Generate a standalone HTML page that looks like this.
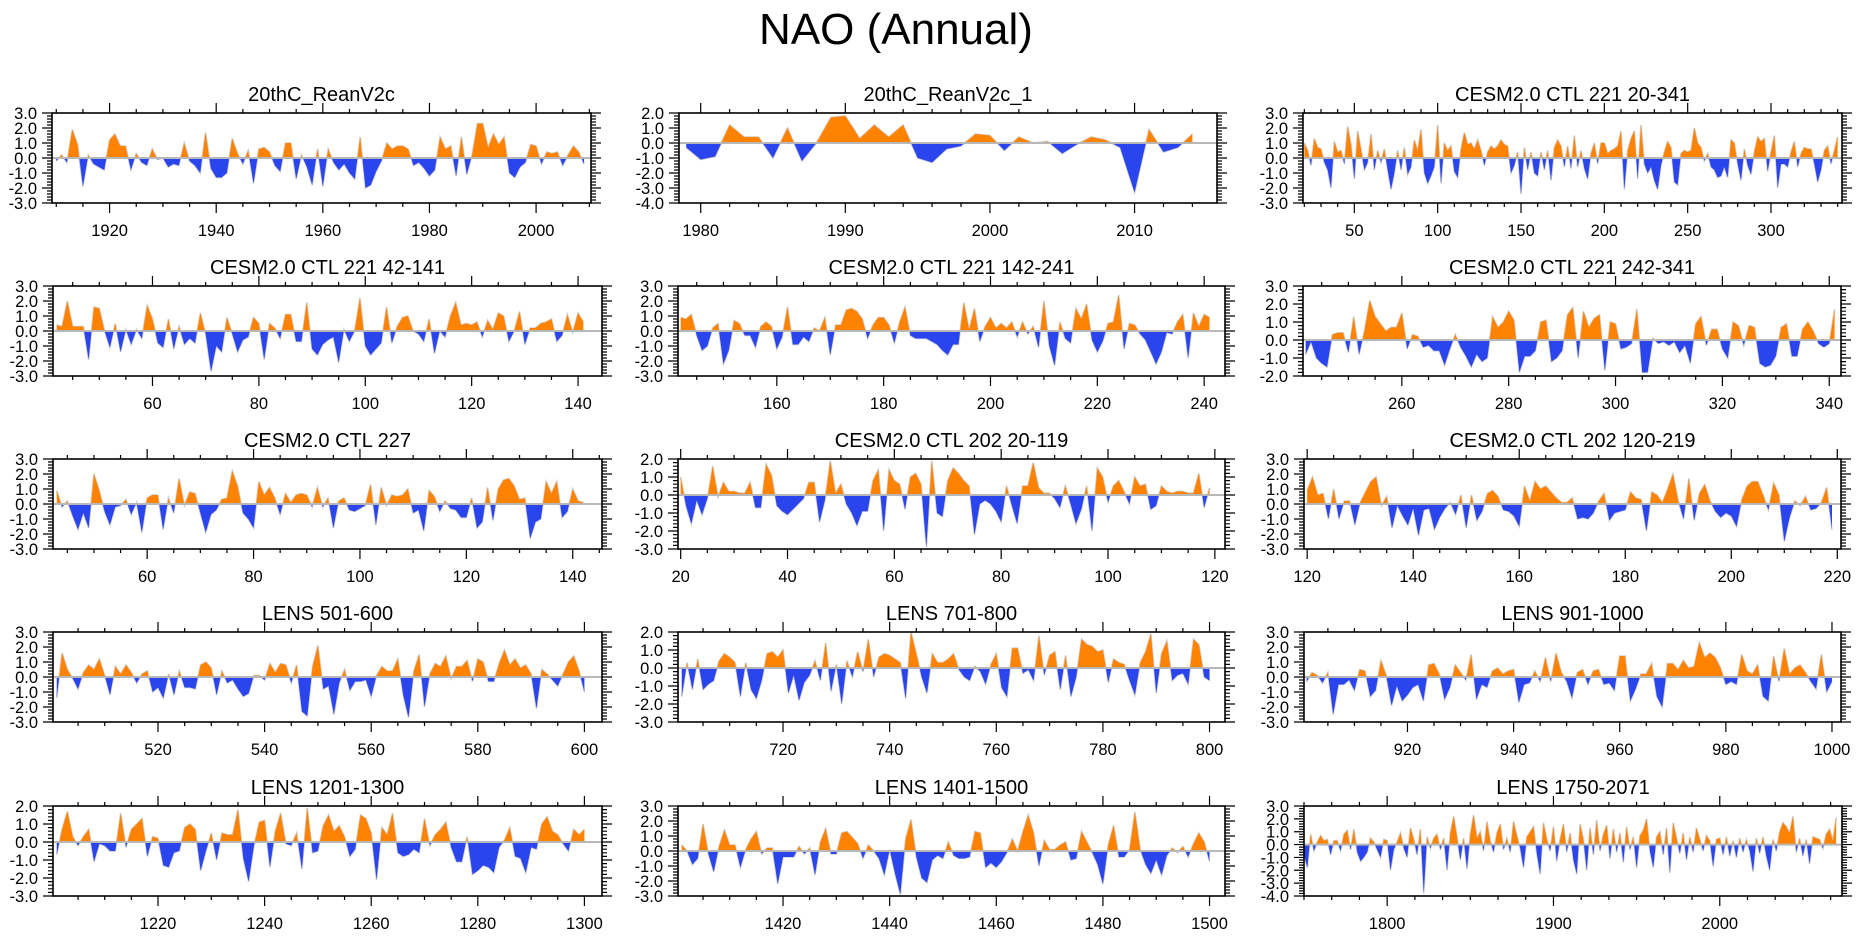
<!DOCTYPE html>
<html><head><meta charset="utf-8"><title>NAO (Annual)</title>
<style>html,body{margin:0;padding:0;background:#fff}svg{display:block}text{font-family:"Liberation Sans",Arial,sans-serif;fill:#000}</style>
</head><body>
<svg id="chart" xmlns="http://www.w3.org/2000/svg" width="1861" height="936" viewBox="0 0 1861 936">
<rect x="0" y="0" width="1861" height="936" fill="#fff"/>
<text x="896" y="44" font-size="44" text-anchor="middle">NAO (Annual)</text>
<defs id="defs"></defs>
</svg>
<script>
const p1Values=[-0.2,0.2,-0.3,1.9,0.9,-1.9,0.2,-0.4,-0.6,-0.8,1.2,1.6,0.8,0.8,-0.8,0.3,-0.3,-0.5,0.6,-0.1,0.0,-0.6,-0.4,-0.5,1.0,-0.2,-0.5,-1.0,1.7,-0.7,-1.3,-1.3,-1.0,1.3,0.3,-0.4,0.5,-1.7,0.6,0.7,0.4,-0.5,-0.9,1.0,1.0,-1.4,0.2,-0.6,-1.8,0.6,-1.9,0.6,-0.3,-0.8,-0.4,-1.0,-1.4,1.4,-2.0,-1.8,-0.9,-0.2,1.0,0.6,0.8,0.8,0.6,-0.5,-0.3,-0.7,-1.2,-0.8,1.4,0.6,0.8,-1.2,1.4,-1.1,0.2,2.3,2.3,0.7,1.6,0.9,1.4,-1.0,-1.3,-0.6,-0.3,0.9,0.8,-0.4,0.4,0.3,0.4,-0.5,0.2,0.8,0.4,-0.4];
const p2Values=[-0.3,-1.1,-0.9,1.2,0.4,0.4,-1.0,1.0,-1.2,0.0,1.7,1.8,0.3,1.2,0.4,1.2,-1.0,-1.3,-0.4,-0.2,0.6,0.5,-0.5,0.4,0.0,0.1,-0.7,-0.1,0.4,0.2,-0.3,-3.3,0.9,-0.6,-0.3,0.6];
const p3Values=[1.0,0.5,-0.5,1.3,0.7,0.6,-0.3,-0.8,-2.0,1.1,0.4,0.5,-0.4,2.1,0.9,-1.4,1.8,0.6,-0.8,-0.3,1.6,-0.8,0.5,-0.3,0.6,-0.8,-2.1,-1.0,0.5,-0.8,0.7,-1.1,-0.6,1.2,0.5,1.9,-1.0,-1.7,-1.2,-0.6,
2.2,-1.7,1.0,0.5,0.8,-0.9,-1.3,0.6,1.7,0.9,1.0,0.6,1.2,0.5,-0.5,0.4,0.8,0.6,0.8,1.2,0.9,0.8,-1.0,-0.5,0.4,-2.4,0.7,-0.8,0.4,-1.0,-1.2,0.4,-0.8,0.5,-1.5,0.7,1.2,0.8,-0.6,0.8,-0.7,1.5,-0.6,0.5,-0.7,-1.4,0.3,1.0,-0.4,1.0,
1.0,0.3,0.5,0.6,0.8,1.8,-2.1,0.5,1.3,1.8,-1.4,2.2,-0.4,-1.0,-0.6,-1.5,-2.1,-0.5,0.4,1.1,0.7,-1.6,-1.8,0.3,0.5,0.4,0.5,2.0,1.0,0.7,-0.2,0.3,-0.6,-0.8,-1.3,-1.2,-0.6,-1.3,1.2,1.0,-0.4,-1.5,0.6,-0.5,-1.1,0.4,1.4,1.1,1.3,-0.9,0.4,1.5,-2.0,-0.4,-0.4,-0.6,0.4,1.1,-0.6,0.3,0.7,0.6,0.6,-0.4,-1.6,-0.8,0.5,0.8,-0.4,0.5,1.4];
const p4Values=[0.4,0.3,2.0,0.3,0.3,0.3,-1.9,1.6,1.5,0.0,-1.1,0.5,-1.4,0.1,-0.9,0.1,-0.5,1.7,0.8,-0.8,-1.1,0.8,-1.2,0.3,-0.9,-0.5,-0.8,1.2,-0.2,-2.7,-1.0,-1.4,0.9,-0.2,-1.4,-0.6,-0.4,0.9,0.5,-1.9,0.5,0.2,-0.5,1.1,1.1,-0.7,-0.7,1.9,-1.2,-1.6,-0.9,-0.6,-0.4,-2.1,0.1,-0.7,0.0,2.2,-1.0,-1.6,-1.2,-0.8,1.6,-0.8,0.3,0.9,1.0,0.0,-0.2,-0.7,0.8,-1.5,0.0,-0.4,1.0,1.9,0.4,0.5,0.4,0.6,-0.4,0.7,0.1,1.2,1.0,-0.7,0.0,1.3,-0.9,0.2,0.2,0.5,0.6,0.8,-0.7,-0.3,1.1,-0.1,1.2,0.6];
const p5Values=[0.9,0.8,1.1,-0.3,-1.3,-1.0,0.2,0.5,-2.2,-1.3,0.7,0.5,-0.3,-0.3,-1.1,0.3,0.6,0.3,-1.2,-0.4,1.6,-0.9,-0.9,-0.4,-0.7,0.2,0.0,0.9,-1.6,0.4,0.4,1.4,1.5,1.3,0.8,-0.5,0.4,0.9,0.9,0.4,-0.8,0.6,1.6,-0.3,-0.5,-0.5,-0.5,-0.7,-0.9,-1.3,-1.6,-0.9,-0.9,1.9,0.1,1.5,-0.7,0.3,0.9,0.2,0.5,0.2,0.6,-0.4,0.6,-0.2,0.3,-1.1,2.0,-1.0,-2.3,0.6,-0.5,-0.8,1.5,0.8,1.8,-0.6,-1.4,-0.7,0.5,0.6,2.4,-1.2,0.5,0.4,-0.2,-0.6,-1.4,-2.2,-1.4,-0.1,-0.2,0.6,1.1,-1.8,1.2,0.3,1.1,0.9];
const p6Values=[-0.8,-0.1,-1.0,-1.3,-1.5,0.3,0.4,0.4,-0.7,1.3,-0.8,0.5,2.2,1.3,0.9,0.5,0.7,0.7,1.5,-0.5,0.3,0.2,-0.4,-0.3,-0.6,-0.6,-1.4,-0.5,0.3,-0.4,-0.9,-1.5,-0.8,-1.2,-1.0,1.3,0.7,1.0,1.6,1.1,-1.8,-0.9,-0.9,-0.6,1.0,1.1,-1.2,-1.0,-0.6,1.4,1.8,-1.0,1.6,0.7,1.2,1.4,-1.7,1.0,0.9,-0.5,-0.4,-0.2,1.7,-1.8,-1.8,0.1,-0.2,-0.1,-0.3,-0.1,-0.7,-0.3,-1.3,0.9,1.3,-0.3,0.6,0.6,-0.5,-1.0,1.0,0.8,-0.3,0.8,0.7,-1.3,-1.5,-1.4,-0.9,0.7,0.9,-0.9,-0.9,0.6,1.0,0.5,-0.2,-0.4,-0.2,1.7];
const p7Values=[0.9,-0.2,0.2,-0.8,-1.7,-0.6,-1.6,2.0,0.9,-0.5,-1.4,-0.2,-0.1,0.3,-0.7,0.1,-1.9,0.4,0.6,0.6,-1.7,0.4,-0.6,1.7,-0.1,0.8,0.7,-0.6,-1.9,-0.7,-0.4,0.3,0.4,2.2,1.2,-0.6,-1.0,-1.6,1.5,0.6,1.1,0.4,-0.7,0.7,0.1,0.6,0.7,0.6,-0.2,1.1,-0.2,0.4,-1.6,0.2,0.4,-0.4,-0.5,-0.3,-0.1,1.3,-1.4,1.1,-0.1,0.6,0.5,0.6,1.0,-0.6,-0.4,-1.8,0.9,0.5,-0.5,0.2,-0.3,-0.4,-0.9,-0.9,0.4,-1.6,-1.2,1.1,-1.1,1.0,1.6,1.7,1.2,0.3,0.4,-2.3,-1.2,-1.0,1.5,0.7,1.5,-0.9,-0.5,1.0,0.2,0.1];
const p8Values=[1.0,-0.6,-1.6,-0.3,-1.1,-0.2,1.6,-0.1,0.7,0.2,0.2,0.1,0.1,0.7,-0.7,-0.7,1.7,1.1,-0.6,-0.9,-1.1,-0.8,-0.5,-0.2,0.7,0.7,-1.5,-0.3,1.9,0.1,0.6,-0.5,-1.0,-1.7,-0.9,-0.9,0.8,1.4,-2.0,1.4,0.8,0.6,-0.8,1.0,1.2,0.6,-2.9,1.9,-1.0,-1.2,0.8,1.5,1.2,0.8,0.5,-2.2,-0.5,-0.3,-0.5,-0.9,-1.5,0.5,-0.6,-1.6,0.5,0.5,1.8,0.4,0.1,0.1,-0.2,-0.7,0.5,-0.5,-1.6,-0.8,0.5,-2.0,1.5,1.0,-0.4,0.5,0.8,0.2,-0.5,1.0,0.5,0.6,-0.8,-0.6,0.5,0.2,0.1,0.2,0.2,0.1,0.1,1.2,-0.7,0.4];
const p9Values=[0.9,1.8,0.6,0.7,-1.0,1.0,-1.0,0.2,0.2,-1.4,0.1,0.8,1.5,1.8,-0.1,0.5,-1.6,-0.1,-0.8,-1.4,-0.3,-2.1,-0.4,-0.3,-1.7,-0.9,-0.3,0.1,-0.7,0.6,-1.6,0.6,-1.1,-0.5,0.7,0.9,0.5,-0.4,-0.5,-0.8,-1.5,1.2,0.2,1.5,1.0,1.2,0.8,0.4,0.1,0.1,0.4,-1.0,-0.9,-1.0,-0.6,0.2,0.7,-1.1,-0.6,-0.5,-0.4,0.8,0.4,0.3,-1.8,0.8,0.6,0.1,1.0,2.0,0.2,-1.0,1.7,-1.1,0.7,1.3,0.2,-0.5,-0.9,-0.6,-0.8,-1.5,0.3,1.2,1.5,1.5,0.6,-0.4,1.4,0.6,-2.5,-0.9,0.2,-0.1,0.5,-0.4,-0.3,0.1,1.1,-1.7];
const p10Values=[-1.4,1.6,0.5,-0.1,-0.8,0.3,0.8,0.5,1.2,0.1,-1.2,0.7,0.2,0.8,0.3,-0.4,0.2,0.4,-1.0,-0.7,-1.4,0.2,-1.2,0.4,-0.7,-0.7,-0.8,0.8,1.0,0.6,-1.2,0.4,-0.4,-0.2,-0.8,-1.3,-1.1,0.1,0.1,-0.2,0.9,0.3,0.9,0.8,-0.4,0.8,-2.3,-2.6,0.7,2.1,-0.8,-0.6,-2.5,-0.4,0.5,-0.9,-0.3,-0.3,-0.2,-1.3,0.1,0.7,0.4,0.4,1.2,-1.2,-2.7,0.4,1.5,-2.0,0.2,0.9,0.7,1.4,-0.1,0.7,0.7,1.1,-0.3,1.2,1.0,-0.3,-0.3,0.9,1.8,0.8,1.2,0.6,0.8,0.2,-2.1,0.5,0.2,-0.2,-0.6,0.2,1.0,1.4,0.4,-1.0];
const p11Values=[-1.6,0.3,-1.2,0.5,-1.2,-0.9,-0.7,0.4,0.8,0.6,0.3,-1.6,0.3,-1.2,-1.7,-0.7,0.8,0.9,0.6,1.0,-1.4,-0.4,-1.8,-0.8,-0.4,0.4,-0.7,1.4,-1.3,0.2,-2.0,0.4,-0.5,0.9,-0.2,1.6,-0.5,0.6,0.8,0.7,0.5,0.3,-1.7,2.0,0.8,-0.5,-1.4,0.8,0.3,0.3,0.5,0.8,-0.1,-0.5,-0.7,0.1,-0.2,-0.9,0.2,0.8,-1.1,-1.6,1.1,1.1,-0.3,-0.1,-0.7,1.8,-0.4,0.7,0.9,-1.2,0.7,-1.6,-0.5,1.6,1.3,1.2,0.9,1.0,-0.8,0.5,0.3,0.2,-0.7,-1.5,0.3,0.9,1.9,-1.4,0.8,1.5,-0.7,-0.4,-0.3,-0.9,1.6,1.3,-0.5,-0.7];
const p12Values=[-0.3,0.3,0.1,-0.4,0.3,-2.5,-0.5,-0.5,-0.2,-0.9,0.5,0.4,-1.3,-0.9,1.1,0.1,-1.9,-0.6,-1.6,-1.2,-0.7,-0.5,-1.6,0.8,0.9,0.2,-1.5,-0.7,0.8,0.3,-0.2,1.5,-1.5,-0.5,-0.7,0.4,0.6,0.2,0.4,0.5,-1.7,-0.5,-0.4,0.4,-0.3,1.3,-0.3,1.6,0.3,-0.3,-1.4,0.3,0.5,-0.5,0.4,0.5,-0.5,-0.4,-0.9,1.4,1.4,-1.6,-0.8,0.2,0.2,0.9,-1.3,-2.0,0.9,0.9,0.5,1.1,0.6,0.7,2.3,1.3,1.6,1.3,0.6,-0.5,-0.3,-0.5,1.5,0.4,0.2,0.8,-1.3,-1.6,1.4,-0.3,1.9,0.2,0.6,0.8,0.3,-0.3,-0.8,1.5,-1.0,-0.3];
const p13Values=[-0.7,0.7,1.7,0.3,-0.2,0.3,0.7,-1.1,-0.1,-0.2,-0.5,-0.5,1.6,-0.3,0.7,1.0,1.3,-0.8,0.3,0.2,-1.3,-1.4,-0.6,-0.5,0.8,1.0,0.7,-1.6,-0.5,0.5,-1.0,0.5,0.4,0.4,1.8,-0.9,-2.2,-0.2,1.1,1.2,-1.4,0.6,1.6,-0.1,-0.2,0.5,-1.5,1.9,-0.6,-0.5,0.9,1.5,0.6,0.9,0.3,-0.8,-0.4,1.5,1.3,0.5,-2.1,0.8,0.4,1.6,-0.6,-0.8,-0.7,-0.4,-0.6,1.3,-0.2,0.4,0.7,1.1,-0.3,-1.1,-1.1,0.3,-1.8,-1.6,-1.3,-1.4,-1.7,-0.3,0.1,0.8,-0.8,-0.9,-1.7,-0.3,-0.4,1.0,1.4,0.6,0.4,-0.1,-0.5,0.7,0.4,0.7];
const p14Values=[0.4,0.0,-0.9,-0.5,1.8,-0.2,-1.4,0.3,1.4,0.4,0.4,-1.1,0.1,0.8,1.3,-0.2,0.2,0.2,-2.2,-0.4,-0.4,-0.4,0.3,-0.2,0.2,-1.6,0.6,1.5,-0.2,-0.2,1.2,1.3,0.9,0.5,-0.5,0.4,0.0,-0.5,-1.6,0.1,-1.5,-2.9,0.8,2.1,-0.4,-1.8,-2.1,-0.6,-0.3,-0.5,0.6,-0.3,-0.5,-0.5,-0.4,1.3,1.2,-1.1,-0.8,-1.1,-0.7,-0.1,0.8,0.0,1.3,2.4,1.2,-1.0,0.7,0.1,0.1,0.4,0.6,-0.6,-0.5,1.3,0.6,-0.1,-0.9,-2.2,0.4,1.7,-0.4,-0.4,0.1,2.6,0.1,-0.9,-1.5,-0.6,-1.6,-0.3,0.2,-0.1,0.3,-0.4,0.5,1.2,0.6,-0.7];
const p15Values=[-0.8,-1.8,0.8,-0.5,0.2,0.7,0.3,0.4,-0.8,0.3,0.3,-0.5,0.8,1.1,-0.4,1.2,-0.6,-1.3,-1.0,-0.6,0.5,0.2,-0.4,-1.0,0.4,0.3,-2.0,-0.4,0.2,0.9,-0.3,-1.0,1.3,0.4,-0.8,1.2,-3.8,0.6,-0.3,0.5,0.8,-0.4,0.5,-2.0,0.9,2.2,0.6,-1.2,0.5,-1.9,0.8,2.3,0.5,1.0,-0.5,1.8,0.3,-0.6,0.9,1.6,-0.4,0.5,-0.6,1.8,0.7,-0.3,-1.8,0.6,1.0,1.4,-0.7,-2.3,1.7,0.4,-0.5,1.4,-1.3,0.4,1.6,-0.6,0.9,-1.2,-2.3,1.6,0.4,-2.0,1.3,-0.8,1.9,-0.5,0.8,1.5,-1.1,1.2,-0.6,0.9,-1.4,1.4,-0.4,0.6,-1.8,0.7,1.1,2.0,-0.5,-1.8,0.6,1.0,-0.8,1.3,-2.2,1.7,0.5,-0.7,0.9,-1.2,0.6,-0.6,1.3,0.4,-0.5,0.7,0.3,-1.7,0.4,0.5,-0.8,0.6,-0.9,0.3,-1.0,0.5,-0.6,0.4,-0.5,-2.1,0.5,-0.7,0.6,-0.9,-2.0,0.4,-0.5,1.0,1.7,1.4,0.9,2.2,-0.6,0.5,-0.9,0.4,-1.5,0.6,0.5,0.4,-0.3,0.8,1.2,0.3,2.1];

const seriesValues=[p1Values,p2Values,p3Values,p4Values,p5Values,p6Values,p7Values,p8Values,p9Values,p10Values,p11Values,p12Values,p13Values,p14Values,p15Values];
const seriesStartYears=[1910,1979,20,42,142,242,43,20,120,501,701,901,1201,1401,1750];
const seriesYearSteps=[1,1,2,1,1,1,1,1,1,1,1,1,1,1,2];
const panelTitles=["20thC_ReanV2c","20thC_ReanV2c_1","CESM2.0 CTL 221 20-341","CESM2.0 CTL 221 42-141","CESM2.0 CTL 221 142-241","CESM2.0 CTL 221 242-341","CESM2.0 CTL 227","CESM2.0 CTL 202 20-119","CESM2.0 CTL 202 120-219","LENS 501-600","LENS 701-800","LENS 901-1000","LENS 1201-1300","LENS 1401-1500","LENS 1750-2071"];
const xTickLabels=[[1920,1940,1960,1980,2000],[1980,1990,2000,2010],[50,100,150,200,250,300],[60,80,100,120,140],[160,180,200,220,240],[260,280,300,320,340],[60,80,100,120,140],[20,40,60,80,100,120],[120,140,160,180,200,220],[520,540,560,580,600],[720,740,760,780,800],[920,940,960,980,1000],[1220,1240,1260,1280,1300],[1420,1440,1460,1480,1500],[1800,1900,2000]];
const xAxisRanges=[[1909.2,2010.3],[1978.5,2015.7],[19.2,342.6],[41.3,144.5],[141.5,243.9],[241.5,342.2],[42.3,145.5],[19.5,121.9],[119.4,220.7],[500.3,603.3],[700.3,802.9],[900.5,1001.7],[1200.3,1303.3],[1400.3,1502.9],[1750,2073.5]];
const yAxisRanges=[[-3,3],[-4,2],[-3,3],[-3,3],[-3,3],[-2,3],[-3,3],[-3,2],[-3,3],[-3,3],[-3,2],[-3,3],[-3,2],[-3,3],[-4,3]];

// layout (pixels)
const minorSteps=[5,2,10,5,5,5,5,5,5,5,5,5,5,5,100/6];
const panelBoxes=[[52,591,113],[679,1217,113],[1303,1842,113],[53,602,286],[678,1225,286],[1303,1841,286],[53,602,459],[678,1225,459],[1304,1841,459],[53,602,632],[678,1225,632],[1304,1841,632],[53,602,806],[678,1225,806],[1304,1842,806]];
const PH=90;
const NS="http://www.w3.org/2000/svg";
const svg=document.getElementById('chart');
const defs=document.getElementById('defs');
function mk(tag,attrs,parent){const e=document.createElementNS(NS,tag);for(const k in attrs)e.setAttribute(k,attrs[k]);parent.appendChild(e);return e;}

function drawPanel(i){
  const [L,R,T]=panelBoxes[i];const B=T+PH;
  const [xmin,xmax]=xAxisRanges[i];const [ymin,ymax]=yAxisRanges[i];
  const xs=v=>L+(v-xmin)/(xmax-xmin)*(R-L);
  const ys=v=>T+(ymax-v)/(ymax-ymin)*PH;
  const g=mk('g',{},svg);
  
  
  const title=mk('text',{x:(L+R)/2,y:T-12,'font-size':20,'text-anchor':'middle'},g);
  title.textContent=panelTitles[i];
  
  
  const vals=seriesValues[i],st=seriesStartYears[i],sp=seriesYearSteps[i];
  const y0=ys(0);
  let d='M'+xs(st).toFixed(2)+','+y0.toFixed(2);
  let line='';
  vals.forEach((v,k)=>{const px=xs(st+k*sp).toFixed(2),py=ys(v).toFixed(2);d+=' L'+px+','+py;line+=(k?' L':'M')+px+','+py;});
  d+=' L'+xs(st+(vals.length-1)*sp).toFixed(2)+','+y0.toFixed(2)+' Z';
  const cpU=mk('clipPath',{id:'cu'+i},defs);mk('rect',{x:L,y:T,width:R-L,height:y0-T},cpU);
  const cpD=mk('clipPath',{id:'cd'+i},defs);mk('rect',{x:L,y:y0,width:R-L,height:B-y0},cpD);
  const outline=mk('path',{d:line,fill:'none',stroke:'#cfcfcf','stroke-width':1.6},g);
  
  
  const pos=mk('path',{d:d,fill:'#ff8300','clip-path':'url(#cu'+i+')'},g);
  
  
  const neg=mk('path',{d:d,fill:'#2b45ee','clip-path':'url(#cd'+i+')'},g);
  
  
  const zl=mk('line',{x1:L,x2:R,y1:y0,y2:y0,stroke:'#b8b8b8','stroke-width':2},g);
  
  
  let tk='';
  const majors=xTickLabels[i],ms=minorSteps[i];
  const base=majors[0];
  for(let k=-60;k<600;k++){const v=base+k*ms;if(v<xmin||v>xmax)continue;const px=xs(v);
    const isMaj=majors.some(m=>Math.abs(m-v)<1e-6);const len=isMaj?10:4;
    tk+='M'+px+','+B+' v'+len+' M'+px+','+T+' v'+(-len);}
  for(let v=ymin;v<=ymax+1e-9;v+=0.2){const py=ys(v);const isMaj=Math.abs(v-Math.round(v))<1e-6;const len=isMaj?10:5;
    tk+='M'+L+','+py+' h'+(-len)+' M'+R+','+py+' h'+len;}
  const ticks=mk('path',{d:tk,stroke:'#000','stroke-width':1.2,fill:'none'},g);
  
  
  const frame=mk('rect',{x:L,y:T,width:R-L,height:PH,fill:'none',stroke:'#000','stroke-width':1.6},g);
  
  
  majors.forEach(m=>{const t=mk('text',{x:xs(m),y:B+33,'font-size':16.5,'text-anchor':'middle'},g);t.textContent=String(m);
    
    });
  for(let v=ymin;v<=ymax;v++){const t=mk('text',{x:L-15,y:ys(v)+6,'font-size':16.5,'text-anchor':'end'},g);t.textContent=v.toFixed(1);
    
    }
}
for(let i=0;i<15;i++)drawPanel(i);
</script>
</body></html>
